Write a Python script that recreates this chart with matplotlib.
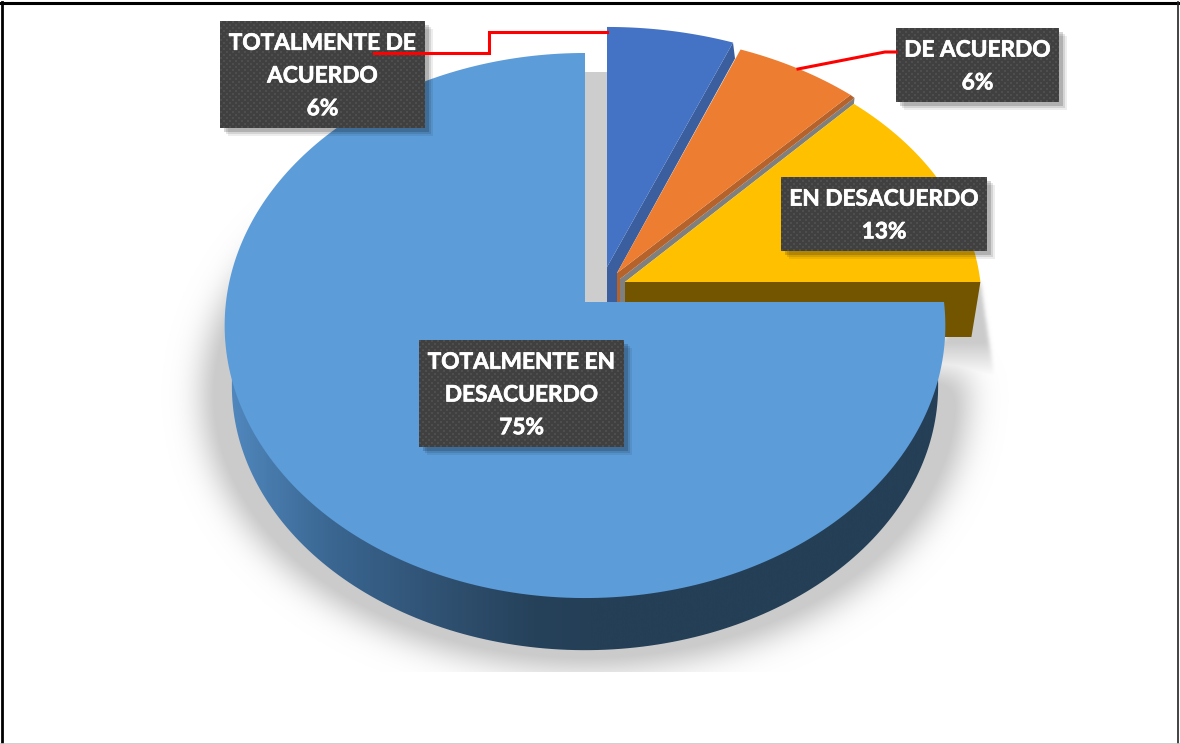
"""3D style pie chart with exploded slices and dark callout labels."""

import numpy as np
import matplotlib

matplotlib.use("Agg")
import matplotlib.pyplot as plt
import matplotlib.patheffects as pe
from matplotlib.colors import LinearSegmentedColormap, to_rgb
from matplotlib.patches import Polygon, Rectangle
from matplotlib.path import Path

plt.rcParams["font.family"] = ["Lato", "DejaVu Sans"]

CATEGORIES = ["TOTALMENTE DE\nACUERDO", "DE ACUERDO", "EN DESACUERDO", "TOTALMENTE EN\nDESACUERDO"]
VALUES = [6, 6, 13, 75]
COLORS = ["#4472c4", "#ed7d31", "#ffc000", "#5c9cd9"]
WALL_COLORS = ["#3a5e9e", "#b5622b", "#735500"]

WIDTH, HEIGHT = 1180, 744
RX, RY, PERSPECTIVE = 359.0, 270.5, 0.0863
APEX = [(607, 267), (617, 273), (625, 282), (585, 302)]
STRETCH = [(1.03, 0.964), (1.01, 0.96), (0.99, 0.96), (1.0, 1.0)]
FRONT_Y = 302
BOXES = [(220, 21, 425, 128), (896, 28, 1059, 102), (781, 177, 987, 251), (419, 340, 624, 447)]


def project(theta, apex, stretch):
    u, v = np.sin(theta), np.cos(theta)
    p = 1 / (1 + PERSPECTIVE * v)
    return np.column_stack((apex[0] + RX * stretch[0] * u * p, apex[1] - RY * stretch[1] * v * p))


def slice_outline(start, end, apex, stretch):
    arc = project(np.linspace(start, end, 240), apex, stretch)
    return np.vstack(([apex], arc))


def blur(mask, sigma):
    x = np.arange(-3 * sigma, 3 * sigma + 1)
    kernel = np.exp(-x**2 / (2 * sigma**2))
    kernel /= kernel.sum()
    mask = np.apply_along_axis(np.convolve, 0, mask, kernel, mode="same")
    return np.apply_along_axis(np.convolve, 1, mask, kernel, mode="same")


def add_poly(ax, points, color, zorder):
    patch = Polygon(points, closed=True, facecolor=color, edgecolor="none", zorder=zorder)
    ax.add_patch(patch)
    return patch


def draw_shadow(ax, big_start, big_end, yellow_end):
    low = slice_outline(big_start, big_end, (585, 372), (1.06, 1.0))
    side = [yellow_end, yellow_end + (14, 95), yellow_end + (-60, 95)]
    yy, xx = np.mgrid[0:HEIGHT, 0:WIDTH]
    grid = np.column_stack((xx.ravel() + 0.5, yy.ravel() + 0.5))
    mask = Path(low).contains_points(grid).reshape(HEIGHT, WIDTH).astype(float)
    side_mask = Path(side).contains_points(grid).reshape(HEIGHT, WIDTH).astype(float)
    side_alpha = blur(side_mask, 2) * np.clip((377 - yy) / 35, 0, 1)
    alpha = np.maximum(np.clip(blur(mask, 16) * 1.35, 0, 1), side_alpha)
    alpha[yy >= 672] = 0
    rgba = np.zeros((HEIGHT, WIDTH, 4))
    rgba[..., :3] = to_rgb("#cbcbcb")
    rgba[..., 3] = alpha
    ax.imshow(rgba, extent=(0, WIDTH, HEIGHT, 0), aspect="auto", zorder=1)


def draw_box(ax, box, text):
    x0, y0, x1, y1 = box
    for offset, a in ((8, 0.07), (6, 0.1), (4, 0.16)):
        ax.add_patch(Rectangle((x0 + offset, y0 + offset), x1 - x0, y1 - y0, fc="black", ec="none", alpha=a, zorder=20))
    w, h = x1 - x0, y1 - y0
    yy, xx = np.mgrid[0:h, 0:w]
    dots = ((xx % 6 < 2) & (yy % 6 < 2)) | (((xx + 3) % 6 < 2) & ((yy + 3) % 6 < 2))
    tile = np.where(dots[..., None], to_rgb("#4e4e4e"), to_rgb("#404040"))
    ax.imshow(tile, extent=(x0, x1, y1, y0), aspect="auto", interpolation="nearest", zorder=21)
    ax.text((x0 + x1) / 2, (y0 + y1) / 2 + 1.5, text, color="white", fontsize=16.3, fontweight="bold",
            ha="center", va="center", linespacing=1.69, zorder=22,
            path_effects=[pe.withStroke(linewidth=0.5, foreground="white")])


def main():
    fig = plt.figure(figsize=(WIDTH / 100, HEIGHT / 100), dpi=100)
    ax = fig.add_axes([0, 0, 1, 1])

    edges = 2 * np.pi * np.cumsum([0] + VALUES) / sum(VALUES)
    tops = [slice_outline(edges[i], edges[i + 1], APEX[i], STRETCH[i]) for i in range(4)]
    blue_end, orange_end, yellow_start, yellow_end = tops[0][-1], tops[1][-1], tops[2][1], tops[2][-1]

    draw_shadow(ax, edges[3], edges[4], yellow_end)

    # gap behind the exploded slices
    ax.add_patch(Rectangle((APEX[3][0], 72), APEX[0][0] - APEX[3][0], FRONT_Y - 72, fc="#cdcdcd", ec="none", zorder=2))

    # inner walls of the exploded slices
    add_poly(ax, [APEX[0], blue_end, blue_end + (2, 16), APEX[1], (APEX[1][0], FRONT_Y), (APEX[0][0], FRONT_Y)],
             WALL_COLORS[0], 3)
    add_poly(ax, tops[0], COLORS[0], 4)
    fold = (APEX[1][0] + 3, APEX[1][1] + 6)
    add_poly(ax, [fold, orange_end + (4, 3), yellow_start, APEX[2], (APEX[2][0], FRONT_Y), (fold[0], FRONT_Y)],
             "#7f7f7f", 5)
    add_poly(ax, [APEX[1], orange_end, orange_end + (4, 3), fold, (fold[0], FRONT_Y), (APEX[1][0], FRONT_Y)],
             WALL_COLORS[1], 6)
    add_poly(ax, tops[1], COLORS[1], 7)
    add_poly(ax, [APEX[2], yellow_end, yellow_end + (-9, 55), (APEX[2][0], yellow_end[1] + 55)], WALL_COLORS[2], 8)
    add_poly(ax, tops[2], COLORS[2], 9)

    # big slice: outer wall with horizontal gradient, then its top
    lower = slice_outline(edges[3], edges[4], (585, 363), (0.98, 0.97))
    wall = add_poly(ax, lower, "none", 10)
    cmap = LinearSegmentedColormap.from_list(
        "wall", [(0, "#5087bd"), (0.14, "#3a6691"), (0.3, "#2f5070"), (0.42, "#26425b"), (0.5, "#243f56"), (1, "#243f56")])
    ramp = np.linspace(0, 1, 1024)[None, :]
    im = ax.imshow(ramp, extent=(230, 950, 680, 300), aspect="auto", cmap=cmap, zorder=10)
    im.set_clip_path(wall)
    add_poly(ax, tops[3], COLORS[3], 11)

    for box, category, value in zip(BOXES, CATEGORIES, VALUES):
        draw_box(ax, box, f"{category}\n{value}%")

    # leader lines sit over the first label
    ax.plot([374, 489, 489, 607], [53, 53, 32, 32], color="#ff0000", lw=2.2, solid_joinstyle="miter", zorder=25)
    ax.plot([798, 885, 896], [69, 52, 52], color="#ff0000", lw=2.2, zorder=25)

    # picture frame
    ax.plot([2, 2], [2, HEIGHT], color="black", lw=2, zorder=30)
    ax.plot([0, WIDTH], [2.5, 2.5], color="black", lw=2.2, zorder=30)
    ax.plot([1178, 1178], [2, HEIGHT], color="#222222", lw=1.2, zorder=30)
    ax.plot([0, WIDTH], [743.5, 743.5], color="#c8c8c8", lw=1.2, zorder=30)

    ax.set_xlim(0, WIDTH)
    ax.set_ylim(HEIGHT, 0)
    ax.axis("off")
    fig.savefig("out.png", dpi=100, facecolor="white")
    plt.close(fig)


if __name__ == "__main__":
    main()
